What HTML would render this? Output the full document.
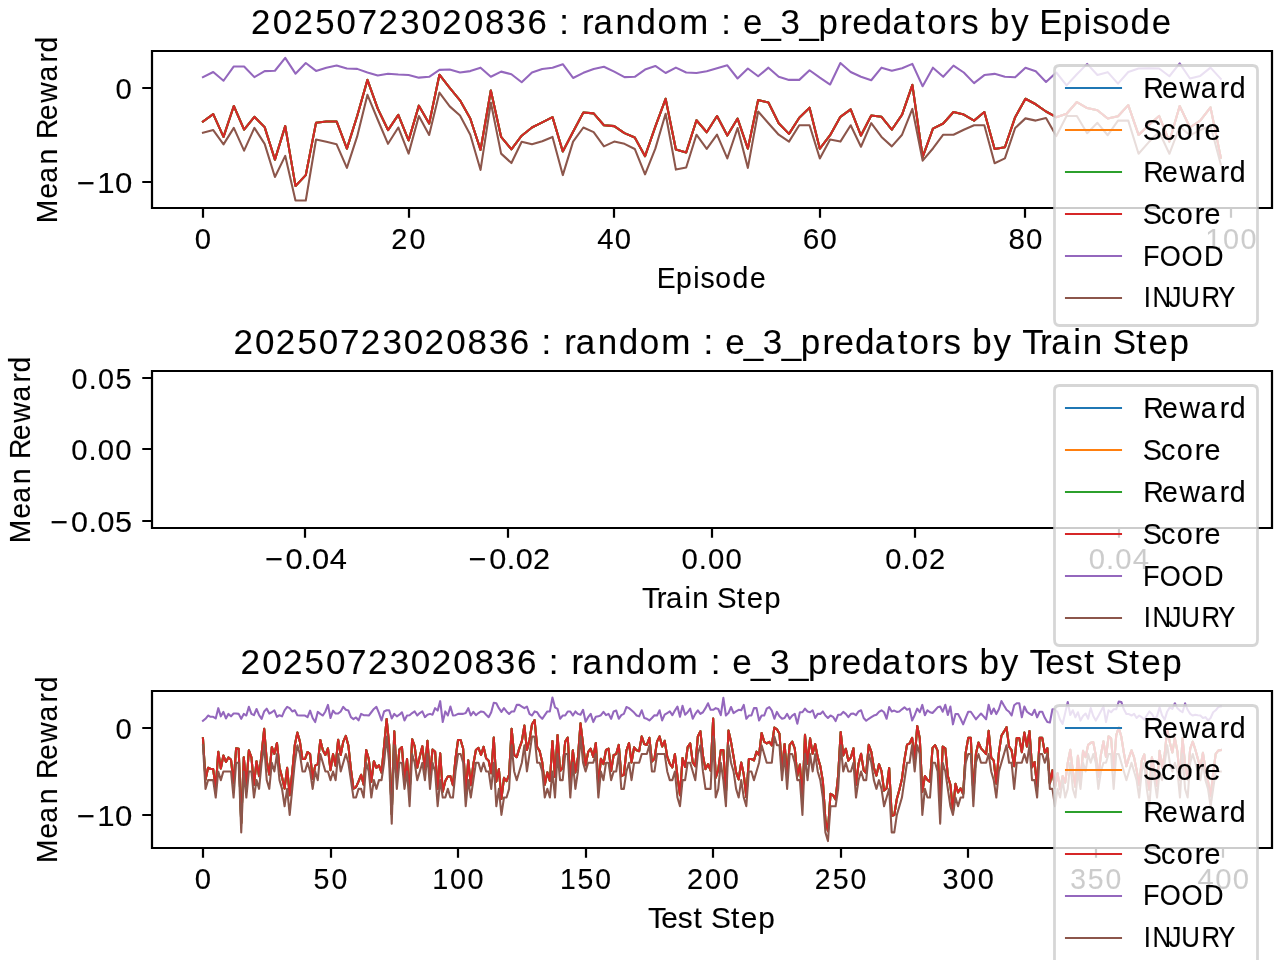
<!DOCTYPE html>
<html><head><meta charset="utf-8"><title>chart</title>
<style>html,body{margin:0;padding:0;background:#fff;overflow:hidden;width:1280px;height:960px}
svg text{font-family:"Liberation Sans", sans-serif;stroke:#000;stroke-width:0.12px}
svg{will-change:transform}</style></head>
<body>
<svg width="1280" height="960" viewBox="0 0 1280 960" style="display:block"><rect width="1280" height="960" fill="#fff"/>
<clipPath id="c0"><rect x="152.07" y="51" width="1119.62" height="156.9"/></clipPath>
<g clip-path="url(#c0)" fill="none" stroke-width="2.08" stroke-linejoin="round" stroke-linecap="square">
<path d="M202.96 121.47 L213.24 114.08 L223.52 136.94 L233.81 106 L244.09 129.55 L254.37 116.83 L264.65 127.14 L274.93 159.63 L285.21 126.11 L295.49 185.93 L305.77 175.1 L316.05 122.67 L326.34 121.47 L336.62 121.47 L346.9 148.63 L357.18 115.97 L367.46 79.88 L377.74 108.58 L388.02 130.06 L398.3 114.94 L408.59 140.38 L418.87 105.66 L429.15 123.53 L439.43 74.72 L449.71 87.95 L459.99 100.33 L470.27 118.55 L480.55 149.83 L490.83 90.53 L501.12 136.94 L511.4 149.32 L521.68 135.74 L531.96 127.49 L542.24 122.33 L552.52 117.17 L562.8 151.55 L573.08 131.78 L583.37 112.53 L593.65 113.39 L603.93 125.25 L614.21 126.11 L624.49 133.16 L634.77 137.46 L645.05 156.19 L655.33 126.63 L665.61 98.78 L675.9 149.49 L686.18 152.41 L696.46 120.27 L706.74 132.3 L717.02 115.97 L727.3 135.57 L737.58 118.55 L747.86 148.63 L758.15 99.99 L768.43 102.56 L778.71 123.19 L788.99 133.85 L799.27 117.69 L809.55 107.72 L819.83 148.63 L830.11 135.22 L840.39 116.83 L850.68 109.44 L860.96 135.57 L871.24 115.46 L881.52 116.83 L891.8 129.72 L902.08 114.6 L912.36 84.86 L922.64 157.22 L932.93 128.69 L943.21 123.53 L953.49 112.02 L963.77 114.6 L974.05 120.61 L984.33 112.02 L994.61 148.97 L1004.89 147.25 L1015.17 117.17 L1025.46 98.78 L1035.74 104.28 L1046.02 111.5 L1056.3 117.17 L1066.58 113.74 L1076.86 102.05 L1087.14 108.06 L1097.42 110.3 L1107.71 118.55 L1117.99 116.31 L1128.27 105.14 L1138.55 134.88 L1148.83 124.91 L1159.11 115.97 L1169.39 141.58 L1179.67 106 L1189.95 127.49 L1200.24 120.61 L1210.52 107.38 L1220.8 157.57" stroke="#1f77b4"/>
<path d="M202.96 121.47 L213.24 114.08 L223.52 136.94 L233.81 106 L244.09 129.55 L254.37 116.83 L264.65 127.14 L274.93 159.63 L285.21 126.11 L295.49 185.93 L305.77 175.1 L316.05 122.67 L326.34 121.47 L336.62 121.47 L346.9 148.63 L357.18 115.97 L367.46 79.88 L377.74 108.58 L388.02 130.06 L398.3 114.94 L408.59 140.38 L418.87 105.66 L429.15 123.53 L439.43 74.72 L449.71 87.95 L459.99 100.33 L470.27 118.55 L480.55 149.83 L490.83 90.53 L501.12 136.94 L511.4 149.32 L521.68 135.74 L531.96 127.49 L542.24 122.33 L552.52 117.17 L562.8 151.55 L573.08 131.78 L583.37 112.53 L593.65 113.39 L603.93 125.25 L614.21 126.11 L624.49 133.16 L634.77 137.46 L645.05 156.19 L655.33 126.63 L665.61 98.78 L675.9 149.49 L686.18 152.41 L696.46 120.27 L706.74 132.3 L717.02 115.97 L727.3 135.57 L737.58 118.55 L747.86 148.63 L758.15 99.99 L768.43 102.56 L778.71 123.19 L788.99 133.85 L799.27 117.69 L809.55 107.72 L819.83 148.63 L830.11 135.22 L840.39 116.83 L850.68 109.44 L860.96 135.57 L871.24 115.46 L881.52 116.83 L891.8 129.72 L902.08 114.6 L912.36 84.86 L922.64 157.22 L932.93 128.69 L943.21 123.53 L953.49 112.02 L963.77 114.6 L974.05 120.61 L984.33 112.02 L994.61 148.97 L1004.89 147.25 L1015.17 117.17 L1025.46 98.78 L1035.74 104.28 L1046.02 111.5 L1056.3 117.17 L1066.58 113.74 L1076.86 102.05 L1087.14 108.06 L1097.42 110.3 L1107.71 118.55 L1117.99 116.31 L1128.27 105.14 L1138.55 134.88 L1148.83 124.91 L1159.11 115.97 L1169.39 141.58 L1179.67 106 L1189.95 127.49 L1200.24 120.61 L1210.52 107.38 L1220.8 157.57" stroke="#ff7f0e"/>
<path d="M202.96 121.47 L213.24 114.08 L223.52 136.94 L233.81 106 L244.09 129.55 L254.37 116.83 L264.65 127.14 L274.93 159.63 L285.21 126.11 L295.49 185.93 L305.77 175.1 L316.05 122.67 L326.34 121.47 L336.62 121.47 L346.9 148.63 L357.18 115.97 L367.46 79.88 L377.74 108.58 L388.02 130.06 L398.3 114.94 L408.59 140.38 L418.87 105.66 L429.15 123.53 L439.43 74.72 L449.71 87.95 L459.99 100.33 L470.27 118.55 L480.55 149.83 L490.83 90.53 L501.12 136.94 L511.4 149.32 L521.68 135.74 L531.96 127.49 L542.24 122.33 L552.52 117.17 L562.8 151.55 L573.08 131.78 L583.37 112.53 L593.65 113.39 L603.93 125.25 L614.21 126.11 L624.49 133.16 L634.77 137.46 L645.05 156.19 L655.33 126.63 L665.61 98.78 L675.9 149.49 L686.18 152.41 L696.46 120.27 L706.74 132.3 L717.02 115.97 L727.3 135.57 L737.58 118.55 L747.86 148.63 L758.15 99.99 L768.43 102.56 L778.71 123.19 L788.99 133.85 L799.27 117.69 L809.55 107.72 L819.83 148.63 L830.11 135.22 L840.39 116.83 L850.68 109.44 L860.96 135.57 L871.24 115.46 L881.52 116.83 L891.8 129.72 L902.08 114.6 L912.36 84.86 L922.64 157.22 L932.93 128.69 L943.21 123.53 L953.49 112.02 L963.77 114.6 L974.05 120.61 L984.33 112.02 L994.61 148.97 L1004.89 147.25 L1015.17 117.17 L1025.46 98.78 L1035.74 104.28 L1046.02 111.5 L1056.3 117.17 L1066.58 113.74 L1076.86 102.05 L1087.14 108.06 L1097.42 110.3 L1107.71 118.55 L1117.99 116.31 L1128.27 105.14 L1138.55 134.88 L1148.83 124.91 L1159.11 115.97 L1169.39 141.58 L1179.67 106 L1189.95 127.49 L1200.24 120.61 L1210.52 107.38 L1220.8 157.57" stroke="#2ca02c"/>
<path d="M202.96 121.47 L213.24 114.08 L223.52 136.94 L233.81 106 L244.09 129.55 L254.37 116.83 L264.65 127.14 L274.93 159.63 L285.21 126.11 L295.49 185.93 L305.77 175.1 L316.05 122.67 L326.34 121.47 L336.62 121.47 L346.9 148.63 L357.18 115.97 L367.46 79.88 L377.74 108.58 L388.02 130.06 L398.3 114.94 L408.59 140.38 L418.87 105.66 L429.15 123.53 L439.43 74.72 L449.71 87.95 L459.99 100.33 L470.27 118.55 L480.55 149.83 L490.83 90.53 L501.12 136.94 L511.4 149.32 L521.68 135.74 L531.96 127.49 L542.24 122.33 L552.52 117.17 L562.8 151.55 L573.08 131.78 L583.37 112.53 L593.65 113.39 L603.93 125.25 L614.21 126.11 L624.49 133.16 L634.77 137.46 L645.05 156.19 L655.33 126.63 L665.61 98.78 L675.9 149.49 L686.18 152.41 L696.46 120.27 L706.74 132.3 L717.02 115.97 L727.3 135.57 L737.58 118.55 L747.86 148.63 L758.15 99.99 L768.43 102.56 L778.71 123.19 L788.99 133.85 L799.27 117.69 L809.55 107.72 L819.83 148.63 L830.11 135.22 L840.39 116.83 L850.68 109.44 L860.96 135.57 L871.24 115.46 L881.52 116.83 L891.8 129.72 L902.08 114.6 L912.36 84.86 L922.64 157.22 L932.93 128.69 L943.21 123.53 L953.49 112.02 L963.77 114.6 L974.05 120.61 L984.33 112.02 L994.61 148.97 L1004.89 147.25 L1015.17 117.17 L1025.46 98.78 L1035.74 104.28 L1046.02 111.5 L1056.3 117.17 L1066.58 113.74 L1076.86 102.05 L1087.14 108.06 L1097.42 110.3 L1107.71 118.55 L1117.99 116.31 L1128.27 105.14 L1138.55 134.88 L1148.83 124.91 L1159.11 115.97 L1169.39 141.58 L1179.67 106 L1189.95 127.49 L1200.24 120.61 L1210.52 107.38 L1220.8 157.57" stroke="#d62728"/>
<path d="M202.96 77.13 L213.24 71.97 L223.52 80.74 L233.81 66.47 L244.09 66.47 L254.37 77.13 L264.65 71.11 L274.93 70.77 L285.21 57.88 L295.49 73.69 L305.77 63.03 L316.05 70.94 L326.34 67.67 L336.62 65.44 L346.9 68.53 L357.18 68.88 L367.46 72.49 L377.74 75.58 L388.02 73.69 L398.3 74.55 L408.59 75.06 L418.87 77.64 L429.15 76.78 L439.43 69.91 L449.71 69.56 L459.99 72.49 L470.27 71.11 L480.55 67.67 L490.83 76.78 L501.12 71.63 L511.4 74.2 L521.68 82.28 L531.96 72.49 L542.24 69.05 L552.52 67.84 L562.8 64.23 L573.08 77.99 L583.37 72.83 L593.65 69.05 L603.93 66.81 L614.21 71.63 L624.49 77.13 L634.77 76.78 L645.05 69.56 L655.33 65.95 L665.61 73 L675.9 67.67 L686.18 72.49 L696.46 73 L706.74 71.28 L717.02 68.19 L727.3 65.27 L737.58 78.5 L747.86 68.53 L758.15 76.27 L768.43 67.67 L778.71 76.78 L788.99 79.88 L799.27 79.88 L809.55 70.25 L819.83 77.64 L830.11 84.52 L840.39 63.03 L850.68 71.97 L860.96 76.78 L871.24 80.22 L881.52 67.67 L891.8 70.77 L902.08 68.19 L912.36 63.89 L922.64 86.24 L932.93 67.67 L943.21 76.78 L953.49 65.61 L963.77 72.49 L974.05 83.14 L984.33 75.06 L994.61 73.86 L1004.89 76.78 L1015.17 77.3 L1025.46 67.84 L1035.74 71.28 L1046.02 81.94 L1056.3 72.49 L1066.58 85.38 L1076.86 74.2 L1087.14 63.89 L1097.42 75.06 L1107.71 72.14 L1117.99 83.66 L1128.27 71.97 L1138.55 68.53 L1148.83 68.19 L1159.11 68.53 L1169.39 76.27 L1179.67 63.38 L1189.95 78.5 L1200.24 75.92 L1210.52 67.67 L1220.8 78.84" stroke="#9467bd"/>
<path d="M202.96 132.64 L213.24 130.06 L223.52 144.33 L233.81 127.83 L244.09 150.69 L254.37 127.83 L264.65 143.82 L274.93 176.99 L285.21 155.85 L295.49 200.54 L305.77 200.54 L316.05 139.52 L326.34 141.75 L336.62 144.33 L346.9 167.88 L357.18 136.42 L367.46 94.83 L377.74 119.75 L388.02 143.82 L398.3 127.49 L408.59 153.61 L418.87 115.97 L429.15 134.88 L439.43 92.6 L449.71 106.35 L459.99 115.46 L470.27 134.71 L480.55 169.94 L490.83 102.56 L501.12 153.61 L511.4 163.07 L521.68 141.75 L531.96 144.33 L542.24 141.24 L552.52 136.94 L562.8 175.1 L573.08 141.58 L583.37 127.49 L593.65 132.13 L603.93 146.39 L614.21 141.58 L624.49 143.82 L634.77 148.97 L645.05 174.41 L655.33 148.63 L665.61 113.74 L675.9 169.6 L686.18 167.53 L696.46 134.71 L706.74 148.97 L717.02 134.71 L727.3 158.43 L737.58 128 L747.86 167.88 L758.15 111.5 L768.43 123.19 L778.71 134.71 L788.99 141.58 L799.27 125.25 L809.55 125.25 L819.83 158.43 L830.11 139.52 L840.39 141.58 L850.68 125.25 L860.96 146.74 L871.24 123.19 L881.52 136.94 L891.8 146.39 L902.08 134.71 L912.36 108.92 L922.64 160.66 L932.93 148.46 L943.21 134.71 L953.49 134.71 L963.77 129.72 L974.05 125.25 L984.33 125.25 L994.61 163.24 L1004.89 158.43 L1015.17 128 L1025.46 118.38 L1035.74 120.61 L1046.02 118.03 L1056.3 136.08 L1066.58 115.97 L1076.86 115.97 L1087.14 133.16 L1097.42 122.85 L1107.71 135.22 L1117.99 120.61 L1128.27 120.61 L1138.55 153.78 L1148.83 142.1 L1159.11 131.78 L1169.39 153.78 L1179.67 126.63 L1189.95 135.22 L1200.24 130.06 L1210.52 125.77 L1220.8 164.44" stroke="#8c564b"/>
</g>
<path d="M203 208 V217.72 M409 208 V217.72 M614 208 V217.72 M820 208 V217.72 M1025 208 V217.72 M1231 208 V217.72 M152 182 H142.28 M152 88 H142.28" stroke="#000" stroke-width="2.22" fill="none"/>
<path d="M152 51 H1272 V208 H152 Z" stroke="#000" stroke-width="2.22" fill="none" stroke-linejoin="miter" stroke-linecap="square"/>
<g font-family="Liberation Sans, sans-serif">
<text transform="translate(194.09 249.34) scale(0.9992 1)" x="0.69" y="0" font-size="29.31" fill="#000000">0</text>
<text transform="translate(390.9 249.34) scale(0.9816 1)" x="0.47 18.83" y="0" font-size="29.31" fill="#000000">20</text>
<text transform="translate(596.52 249.34) scale(0.9992 1)" x="0.69 18.36" y="0" font-size="29.31" fill="#000000">40</text>
<text transform="translate(802.14 249.34) scale(1.0163 1)" x="0.54 17.91" y="0" font-size="29.31" fill="#000000">60</text>
<text transform="translate(1007.77 249.34) scale(1.0045 1)" x="0.64 18.22" y="0" font-size="29.31" fill="#000000">80</text>
<text transform="translate(1204.52 249.34) scale(0.9852 1)" x="0.67 18.73 36.65" y="0" font-size="29.31" fill="#000000">100</text>
<text transform="translate(74 192.93) scale(1.0627 1)" x="2.39 21.88 38.65" y="0" font-size="29.31" fill="#000000">−10</text>
<text transform="translate(114.88 98.91) scale(0.9992 1)" x="0.69" y="0" font-size="29.31" fill="#000000">0</text>
<text transform="translate(657.38 288.46) scale(0.9667 1)" x="-0.78 19.3 37.11 44.69 59.94 77.64 95.83" y="0" font-size="29.31" fill="#000000">Episode</text>
<text transform="translate(56.89 223.39) rotate(-90) scale(0.9655 1)" x="0.21 25.56 42.08 61.13 78.82 87.34 106.88 124.98 146.92 166.54 177.03" y="0" font-size="29.31" fill="#000000">Mean Reward</text>
<text transform="translate(250.63 34.33) scale(0.9885 1)" x="0.5 22.42 43.46 65.25 86.86 108.28 129.38 151.35 172.79 193.82 215.75 237.23 258.76 280.2 301.21 312.27 323.31 335.3 346.74 369.12 390.26 411.52 433.5 464.99 476.05 487.1 498.02 516.85 536 555.21 574.51 596.54 608.59 629.42 649.42 672.46 684.6 706.45 718.83 736.66 748.06 769.53 788.81 797.88 821.53 842.62 851.44 869.34 890.17 911.55" y="0" font-size="35.17" fill="#000000">20250723020836 : random : e_3_predators by Episode</text>
</g>
<path d="M1059.5 325.5 L1252.5 325.5 Q1257.5 325.5 1257.5 319.5 L1257.5 70.5 Q1257.5 65.5 1252.5 65.5 L1059.5 65.5 Q1054.5 65.5 1054.5 70.5 L1054.5 319.5 Q1054.5 325.5 1059.5 325.5 Z" fill="#ffffff" fill-opacity="0.8" stroke="#cccccc" stroke-opacity="0.8" stroke-width="2.78"/>
<g fill="none" stroke-width="2.08" stroke-linecap="square">
<path d="M1066 88 L1093 88 L1121 88" stroke="#1f77b4"/>
<path d="M1066 130 L1093 130 L1121 130" stroke="#ff7f0e"/>
<path d="M1066 172 L1093 172 L1121 172" stroke="#2ca02c"/>
<path d="M1066 214 L1093 214 L1121 214" stroke="#d62728"/>
<path d="M1066 256 L1093 256 L1121 256" stroke="#9467bd"/>
<path d="M1066 298 L1093 298 L1121 298" stroke="#8c564b"/>
</g>
<g font-family="Liberation Sans, sans-serif">
<text transform="translate(1143.32 98) scale(0.9722 1)" x="-0.19 19.24 37.19 58.99 78.5 88.9" y="0" font-size="29.31" fill="#000000">Reward</text>
<text transform="translate(1143.32 139.89) scale(0.9809 1)" x="-0.63 18.08 34.03 52.32 62.43" y="0" font-size="29.31" fill="#000000">Score</text>
<text transform="translate(1143.32 181.78) scale(0.9722 1)" x="-0.19 19.24 37.19 58.99 78.5 88.9" y="0" font-size="29.31" fill="#000000">Reward</text>
<text transform="translate(1143.32 223.67) scale(0.9809 1)" x="-0.63 18.08 34.03 52.32 62.43" y="0" font-size="29.31" fill="#000000">Score</text>
<text transform="translate(1143.32 265.56) scale(0.9227 1)" x="-0.31 17.76 41.43 65.74" y="0" font-size="29.31" fill="#000000">FOOD</text>
<text transform="translate(1143.32 307.44) scale(0.8789 1)" x="0.59 10.54 28.75 43.22 66.32 85.17" y="0" font-size="29.31" fill="#000000">INJURY</text>
</g>
<clipPath id="c1"><rect x="152.07" y="370.95" width="1119.62" height="156.9"/></clipPath>
<g clip-path="url(#c1)" fill="none" stroke-width="2.08" stroke-linejoin="round" stroke-linecap="square">
</g>
<path d="M305 528 V537.72 M508 528 V537.72 M712 528 V537.72 M915 528 V537.72 M1119 528 V537.72 M152 521 H142.28 M152 449 H142.28 M152 378 H142.28" stroke="#000" stroke-width="2.22" fill="none"/>
<path d="M152 371 H1272 V528 H152 Z" stroke="#000" stroke-width="2.22" fill="none" stroke-linejoin="miter" stroke-linecap="square"/>
<g font-family="Liberation Sans, sans-serif">
<text transform="translate(262.12 569.29) scale(1.0533 1)" x="2.48 22.31 38.94 47.44 64.21" y="0" font-size="29.31" fill="#000000">−0.04</text>
<text transform="translate(465.69 569.29) scale(1.0463 1)" x="2.56 22.51 39.23 47.81 64.34" y="0" font-size="29.31" fill="#000000">−0.02</text>
<text transform="translate(680.82 569.29) scale(1.0008 1)" x="0.67 17.97 27.13 44.77" y="0" font-size="29.31" fill="#000000">0.00</text>
<text transform="translate(884.45 569.29) scale(0.9899 1)" x="0.77 18.21 27.52 44.98" y="0" font-size="29.31" fill="#000000">0.02</text>
<text transform="translate(1088.01 569.29) scale(1.0008 1)" x="0.67 17.97 27.13 44.77" y="0" font-size="29.31" fill="#000000">0.04</text>
<text transform="translate(47.38 531.72) scale(1.0408 1)" x="2.62 22.67 39.46 48.11 64.97" y="0" font-size="29.31" fill="#000000">−0.05</text>
<text transform="translate(70.5 460.4) scale(1.0008 1)" x="0.67 17.97 27.13 44.77" y="0" font-size="29.31" fill="#000000">0.00</text>
<text transform="translate(70.63 389.08) scale(0.9834 1)" x="0.83 18.36 27.75 45.6" y="0" font-size="29.31" fill="#000000">0.05</text>
<text transform="translate(642.57 608.41) scale(1.0021 1)" x="-0.48 14.15 23.48 41.76 49.54 66.73 74.37 94.07 104.07 121.49" y="0" font-size="29.31" fill="#000000">Train Step</text>
<text transform="translate(30.26 543.34) rotate(-90) scale(0.9655 1)" x="0.21 25.56 42.08 61.13 78.82 87.34 106.88 124.98 146.92 166.54 177.03" y="0" font-size="29.31" fill="#000000">Mean Reward</text>
<text transform="translate(232.94 354.28) scale(0.9942 1)" x="0.44 22.24 43.15 64.82 86.31 107.6 128.58 150.43 171.74 192.66 214.46 235.82 257.22 278.53 299.45 310.45 321.43 333.35 344.69 366.95 387.97 409.1 430.93 462.3 473.3 484.28 495.11 513.83 532.87 551.98 571.16 593.08 605.05 625.76 645.64 668.58 680.63 702.36 714.66 732.41 743.71 765.07 784.26 793.99 811.77 823.12 845.23 854.71 875.51 884.83 908.64 920.81 941.93" y="0" font-size="35.17" fill="#000000">20250723020836 : random : e_3_predators by Train Step</text>
</g>
<path d="M1059.5 645.5 L1252.5 645.5 Q1257.5 645.5 1257.5 639.5 L1257.5 390.5 Q1257.5 385.5 1252.5 385.5 L1059.5 385.5 Q1054.5 385.5 1054.5 390.5 L1054.5 639.5 Q1054.5 645.5 1059.5 645.5 Z" fill="#ffffff" fill-opacity="0.8" stroke="#cccccc" stroke-opacity="0.8" stroke-width="2.78"/>
<g fill="none" stroke-width="2.08" stroke-linecap="square">
<path d="M1066 408 L1093 408 L1121 408" stroke="#1f77b4"/>
<path d="M1066 450 L1093 450 L1121 450" stroke="#ff7f0e"/>
<path d="M1066 492 L1093 492 L1121 492" stroke="#2ca02c"/>
<path d="M1066 534 L1093 534 L1121 534" stroke="#d62728"/>
<path d="M1066 576 L1093 576 L1121 576" stroke="#9467bd"/>
<path d="M1066 618 L1093 618 L1121 618" stroke="#8c564b"/>
</g>
<g font-family="Liberation Sans, sans-serif">
<text transform="translate(1143.32 417.95) scale(0.9722 1)" x="-0.19 19.24 37.19 58.99 78.5 88.9" y="0" font-size="29.31" fill="#000000">Reward</text>
<text transform="translate(1143.32 459.84) scale(0.9809 1)" x="-0.63 18.08 34.03 52.32 62.43" y="0" font-size="29.31" fill="#000000">Score</text>
<text transform="translate(1143.32 501.73) scale(0.9722 1)" x="-0.19 19.24 37.19 58.99 78.5 88.9" y="0" font-size="29.31" fill="#000000">Reward</text>
<text transform="translate(1143.32 543.62) scale(0.9809 1)" x="-0.63 18.08 34.03 52.32 62.43" y="0" font-size="29.31" fill="#000000">Score</text>
<text transform="translate(1143.32 585.51) scale(0.9227 1)" x="-0.31 17.76 41.43 65.74" y="0" font-size="29.31" fill="#000000">FOOD</text>
<text transform="translate(1143.32 627.39) scale(0.8789 1)" x="0.59 10.54 28.75 43.22 66.32 85.17" y="0" font-size="29.31" fill="#000000">INJURY</text>
</g>
<clipPath id="c2"><rect x="152.07" y="690.9" width="1119.62" height="156.9"/></clipPath>
<g clip-path="url(#c2)" fill="none" stroke-width="2.08" stroke-linejoin="round" stroke-linecap="square">
<path d="M202.96 738.32 L205.51 779.71 L208.06 767.74 L210.61 769.05 L213.17 769.05 L215.72 788.09 L218.27 751.68 L220.82 768.56 L223.37 755.44 L225.92 761.98 L228.47 757.4 L231.02 759.86 L233.57 783.19 L236.12 748.37 L238.68 748.7 L241.23 823.23 L243.78 757.4 L246.33 785.15 L248.88 750.37 L251.43 757.4 L253.98 784.82 L256.53 761.2 L259.08 776.12 L261.63 753.6 L264.19 728.84 L266.74 760.88 L269.29 774.48 L271.84 747.06 L274.39 753.81 L276.94 742.94 L279.49 767.41 L282.04 777.26 L284.59 788.62 L287.14 767.78 L289.69 795.2 L292.25 772.36 L294.8 745.1 L297.35 732.6 L299.9 741.63 L302.45 759.04 L305 759.04 L307.55 751.97 L310.1 754.13 L312.65 778.9 L315.2 765.58 L317.76 764.15 L320.31 740 L322.86 750.33 L325.41 754.95 L327.96 748.41 L330.51 770.19 L333.06 754.13 L335.61 765.78 L338.16 739.67 L340.71 754.95 L343.27 741.67 L345.82 735.91 L348.37 745.43 L350.92 769.38 L353.47 788.75 L356.02 787.11 L358.57 781.35 L361.12 774.81 L363.67 784.82 L366.22 750.01 L368.77 759.04 L371.33 781.88 L373.88 761.2 L376.43 767.78 L378.98 765.29 L381.53 772.65 L384.08 746.25 L386.63 718.99 L389.18 745.1 L391.73 814.2 L394.28 731.29 L396.84 777.26 L399.39 749.52 L401.94 747.06 L404.49 781.35 L407.04 759.04 L409.59 793.53 L412.14 739.18 L414.69 746.25 L417.24 767.74 L419.79 756.59 L422.35 746.25 L424.9 769.38 L427.45 740.81 L430 774.81 L432.55 749.52 L435.1 751.68 L437.65 788.95 L440.2 753.36 L442.75 791.69 L445.3 781.06 L447.85 776.45 L450.41 776.16 L452.96 785.15 L455.51 758.71 L458.06 740 L460.61 740 L463.16 748.7 L465.71 791.4 L468.26 760.39 L470.81 785.15 L473.36 764.15 L475.92 750.01 L478.47 747.88 L481.02 754.95 L483.57 746.74 L486.12 758.22 L488.67 760.67 L491.22 773.18 L493.77 737.58 L496.32 781.59 L498.87 769.09 L501.43 798.96 L503.98 777.79 L506.53 781.06 L509.08 774.81 L511.63 728.84 L514.18 754.95 L516.73 757.12 L519.28 748.41 L521.83 741.34 L524.38 725.57 L526.93 750.05 L529.49 740 L532.04 724.22 L534.59 720.14 L537.14 747.06 L539.69 751.15 L542.24 762.31 L544.79 784.82 L547.34 772.36 L549.89 781.06 L552.44 741.06 L555 776.98 L557.55 735.09 L560.1 771.01 L562.65 767.74 L565.2 741.63 L567.75 737.54 L570.3 781.06 L572.85 750.33 L575.4 772.36 L577.95 757.4 L580.51 723.4 L583.06 744.61 L585.61 765.25 L588.16 751.97 L590.71 748.7 L593.26 756.87 L595.81 742.94 L598.36 785.97 L600.91 758.71 L603.46 764.15 L606.01 750.01 L608.57 748.7 L611.12 771.01 L613.67 754.95 L616.22 754.13 L618.77 744.9 L621.32 776.12 L623.87 774.81 L626.42 750.54 L628.97 742.98 L631.52 762.51 L634.08 747.39 L636.63 750.33 L639.18 751.15 L641.73 736.4 L644.28 744.08 L646.83 744.9 L649.38 737.83 L651.93 761.49 L654.48 758.71 L657.03 741.63 L659.59 736.4 L662.14 746.53 L664.69 740.81 L667.24 756.59 L669.79 763.66 L672.34 767.41 L674.89 754.13 L677.44 776.16 L679.99 795.16 L682.54 757.93 L685.09 766.92 L687.65 747.06 L690.2 743.47 L692.75 762.31 L695.3 766.11 L697.85 736.4 L700.4 731.29 L702.95 755.77 L705.5 769.09 L708.05 764.19 L710.6 770.72 L713.16 718.5 L715.71 777.79 L718.26 769.91 L720.81 750.01 L723.36 750.09 L725.91 793.85 L728.46 730.47 L731.01 741.83 L733.56 756.59 L736.11 772.36 L738.67 779.43 L741.22 762.51 L743.77 774.53 L746.32 797.12 L748.87 759.04 L751.42 759.04 L753.97 760.39 L756.52 751.68 L759.07 755.24 L761.62 732.93 L764.17 741.63 L766.73 743.47 L769.28 741.83 L771.83 745.43 L774.38 727.49 L776.93 729.33 L779.48 733.74 L782.03 771.01 L784.58 744.08 L787.13 774.81 L789.68 744.9 L792.24 741.63 L794.79 748.7 L797.34 775.91 L799.89 764.47 L802.44 799.29 L804.99 734.76 L807.54 763.66 L810.09 738.36 L812.64 753.81 L815.19 744.08 L817.75 757.4 L820.3 766.11 L822.85 781.06 L825.4 819.97 L827.95 831.12 L830.5 793.85 L833.05 795.16 L835.6 799.41 L838.15 775.63 L840.7 732.11 L843.25 755.44 L845.81 748.7 L848.36 760.67 L850.91 757.4 L853.46 748.37 L856.01 784.82 L858.56 763.66 L861.11 753.81 L863.66 770.19 L866.21 772.97 L868.76 744.9 L871.32 751.97 L873.87 767.74 L876.42 775.63 L878.97 764.15 L881.52 771.22 L884.07 790.58 L886.62 788.42 L889.17 767.95 L891.72 815.88 L894.27 815.06 L896.83 798.96 L899.38 789.77 L901.93 778.94 L904.48 759.57 L907.03 744.61 L909.58 743.47 L912.13 737.83 L914.68 758.71 L917.23 726.06 L919.78 738.36 L922.33 791.93 L924.89 776.12 L927.44 779.92 L929.99 781.88 L932.54 747.88 L935.09 745.1 L937.64 750.87 L940.19 802.27 L942.74 746.57 L945.29 748.25 L947.84 775.96 L950.4 784.86 L952.95 811.38 L955.5 783.68 L958.05 792.38 L960.6 788.42 L963.15 793.98 L965.7 752.62 L968.25 737.87 L970.8 737.87 L973.35 793.85 L975.91 754.09 L978.46 742.45 L981.01 748.37 L983.56 751.15 L986.11 754.09 L988.66 730.84 L991.21 757.57 L993.76 760.71 L996.31 783.68 L998.86 752.83 L1001.41 735.79 L1003.97 731.66 L1006.52 727.2 L1009.07 746.57 L1011.62 750.33 L1014.17 766.15 L1016.72 738.07 L1019.27 738.07 L1021.82 752.13 L1024.37 732.64 L1026.92 746.57 L1029.48 730.96 L1032.03 767.25 L1034.58 762.02 L1037.13 786.95 L1039.68 737.87 L1042.23 737.87 L1044.78 752.62 L1047.33 748.17 L1049.88 783.47 L1052.43 770.23 L1054.99 787.64 L1057.54 773.18 L1060.09 789.24 L1062.64 776.08 L1065.19 782.7 L1067.74 762.88 L1070.29 749.84 L1072.84 771.22 L1075.39 786.95 L1077.94 755.77 L1080.49 781.51 L1083.05 750.82 L1085.6 757.08 L1088.15 744.9 L1090.7 742.82 L1093.25 742.12 L1095.8 755.4 L1098.35 776.94 L1100.9 754.79 L1103.45 741.34 L1106 756.87 L1108.56 736.4 L1111.11 738.36 L1113.66 770.23 L1116.21 735.42 L1118.76 727.57 L1121.31 736.77 L1123.86 752.83 L1126.41 766.27 L1128.96 757.57 L1131.51 750.33 L1134.07 757.4 L1136.62 770.19 L1139.17 785.15 L1141.72 760.67 L1144.27 754.42 L1146.82 776.45 L1149.37 789.77 L1151.92 757.4 L1154.47 771.01 L1157.02 785.97 L1159.57 750.87 L1162.13 767.74 L1164.68 754.42 L1167.23 728.84 L1169.78 742.16 L1172.33 752.5 L1174.88 738.07 L1177.43 751.68 L1179.98 780.25 L1182.53 738.36 L1185.08 764.19 L1187.64 779.43 L1190.19 748.7 L1192.74 741.63 L1195.29 749.52 L1197.84 758.71 L1200.39 767.74 L1202.94 752.79 L1205.49 769.38 L1208.04 781.35 L1210.59 796.31 L1213.15 773.18 L1215.7 753.81 L1218.25 750.54 L1220.8 750.05" stroke="#1f77b4"/>
<path d="M202.96 738.32 L205.51 779.71 L208.06 767.74 L210.61 769.05 L213.17 769.05 L215.72 788.09 L218.27 751.68 L220.82 768.56 L223.37 755.44 L225.92 761.98 L228.47 757.4 L231.02 759.86 L233.57 783.19 L236.12 748.37 L238.68 748.7 L241.23 823.23 L243.78 757.4 L246.33 785.15 L248.88 750.37 L251.43 757.4 L253.98 784.82 L256.53 761.2 L259.08 776.12 L261.63 753.6 L264.19 728.84 L266.74 760.88 L269.29 774.48 L271.84 747.06 L274.39 753.81 L276.94 742.94 L279.49 767.41 L282.04 777.26 L284.59 788.62 L287.14 767.78 L289.69 795.2 L292.25 772.36 L294.8 745.1 L297.35 732.6 L299.9 741.63 L302.45 759.04 L305 759.04 L307.55 751.97 L310.1 754.13 L312.65 778.9 L315.2 765.58 L317.76 764.15 L320.31 740 L322.86 750.33 L325.41 754.95 L327.96 748.41 L330.51 770.19 L333.06 754.13 L335.61 765.78 L338.16 739.67 L340.71 754.95 L343.27 741.67 L345.82 735.91 L348.37 745.43 L350.92 769.38 L353.47 788.75 L356.02 787.11 L358.57 781.35 L361.12 774.81 L363.67 784.82 L366.22 750.01 L368.77 759.04 L371.33 781.88 L373.88 761.2 L376.43 767.78 L378.98 765.29 L381.53 772.65 L384.08 746.25 L386.63 718.99 L389.18 745.1 L391.73 814.2 L394.28 731.29 L396.84 777.26 L399.39 749.52 L401.94 747.06 L404.49 781.35 L407.04 759.04 L409.59 793.53 L412.14 739.18 L414.69 746.25 L417.24 767.74 L419.79 756.59 L422.35 746.25 L424.9 769.38 L427.45 740.81 L430 774.81 L432.55 749.52 L435.1 751.68 L437.65 788.95 L440.2 753.36 L442.75 791.69 L445.3 781.06 L447.85 776.45 L450.41 776.16 L452.96 785.15 L455.51 758.71 L458.06 740 L460.61 740 L463.16 748.7 L465.71 791.4 L468.26 760.39 L470.81 785.15 L473.36 764.15 L475.92 750.01 L478.47 747.88 L481.02 754.95 L483.57 746.74 L486.12 758.22 L488.67 760.67 L491.22 773.18 L493.77 737.58 L496.32 781.59 L498.87 769.09 L501.43 798.96 L503.98 777.79 L506.53 781.06 L509.08 774.81 L511.63 728.84 L514.18 754.95 L516.73 757.12 L519.28 748.41 L521.83 741.34 L524.38 725.57 L526.93 750.05 L529.49 740 L532.04 724.22 L534.59 720.14 L537.14 747.06 L539.69 751.15 L542.24 762.31 L544.79 784.82 L547.34 772.36 L549.89 781.06 L552.44 741.06 L555 776.98 L557.55 735.09 L560.1 771.01 L562.65 767.74 L565.2 741.63 L567.75 737.54 L570.3 781.06 L572.85 750.33 L575.4 772.36 L577.95 757.4 L580.51 723.4 L583.06 744.61 L585.61 765.25 L588.16 751.97 L590.71 748.7 L593.26 756.87 L595.81 742.94 L598.36 785.97 L600.91 758.71 L603.46 764.15 L606.01 750.01 L608.57 748.7 L611.12 771.01 L613.67 754.95 L616.22 754.13 L618.77 744.9 L621.32 776.12 L623.87 774.81 L626.42 750.54 L628.97 742.98 L631.52 762.51 L634.08 747.39 L636.63 750.33 L639.18 751.15 L641.73 736.4 L644.28 744.08 L646.83 744.9 L649.38 737.83 L651.93 761.49 L654.48 758.71 L657.03 741.63 L659.59 736.4 L662.14 746.53 L664.69 740.81 L667.24 756.59 L669.79 763.66 L672.34 767.41 L674.89 754.13 L677.44 776.16 L679.99 795.16 L682.54 757.93 L685.09 766.92 L687.65 747.06 L690.2 743.47 L692.75 762.31 L695.3 766.11 L697.85 736.4 L700.4 731.29 L702.95 755.77 L705.5 769.09 L708.05 764.19 L710.6 770.72 L713.16 718.5 L715.71 777.79 L718.26 769.91 L720.81 750.01 L723.36 750.09 L725.91 793.85 L728.46 730.47 L731.01 741.83 L733.56 756.59 L736.11 772.36 L738.67 779.43 L741.22 762.51 L743.77 774.53 L746.32 797.12 L748.87 759.04 L751.42 759.04 L753.97 760.39 L756.52 751.68 L759.07 755.24 L761.62 732.93 L764.17 741.63 L766.73 743.47 L769.28 741.83 L771.83 745.43 L774.38 727.49 L776.93 729.33 L779.48 733.74 L782.03 771.01 L784.58 744.08 L787.13 774.81 L789.68 744.9 L792.24 741.63 L794.79 748.7 L797.34 775.91 L799.89 764.47 L802.44 799.29 L804.99 734.76 L807.54 763.66 L810.09 738.36 L812.64 753.81 L815.19 744.08 L817.75 757.4 L820.3 766.11 L822.85 781.06 L825.4 819.97 L827.95 831.12 L830.5 793.85 L833.05 795.16 L835.6 799.41 L838.15 775.63 L840.7 732.11 L843.25 755.44 L845.81 748.7 L848.36 760.67 L850.91 757.4 L853.46 748.37 L856.01 784.82 L858.56 763.66 L861.11 753.81 L863.66 770.19 L866.21 772.97 L868.76 744.9 L871.32 751.97 L873.87 767.74 L876.42 775.63 L878.97 764.15 L881.52 771.22 L884.07 790.58 L886.62 788.42 L889.17 767.95 L891.72 815.88 L894.27 815.06 L896.83 798.96 L899.38 789.77 L901.93 778.94 L904.48 759.57 L907.03 744.61 L909.58 743.47 L912.13 737.83 L914.68 758.71 L917.23 726.06 L919.78 738.36 L922.33 791.93 L924.89 776.12 L927.44 779.92 L929.99 781.88 L932.54 747.88 L935.09 745.1 L937.64 750.87 L940.19 802.27 L942.74 746.57 L945.29 748.25 L947.84 775.96 L950.4 784.86 L952.95 811.38 L955.5 783.68 L958.05 792.38 L960.6 788.42 L963.15 793.98 L965.7 752.62 L968.25 737.87 L970.8 737.87 L973.35 793.85 L975.91 754.09 L978.46 742.45 L981.01 748.37 L983.56 751.15 L986.11 754.09 L988.66 730.84 L991.21 757.57 L993.76 760.71 L996.31 783.68 L998.86 752.83 L1001.41 735.79 L1003.97 731.66 L1006.52 727.2 L1009.07 746.57 L1011.62 750.33 L1014.17 766.15 L1016.72 738.07 L1019.27 738.07 L1021.82 752.13 L1024.37 732.64 L1026.92 746.57 L1029.48 730.96 L1032.03 767.25 L1034.58 762.02 L1037.13 786.95 L1039.68 737.87 L1042.23 737.87 L1044.78 752.62 L1047.33 748.17 L1049.88 783.47 L1052.43 770.23 L1054.99 787.64 L1057.54 773.18 L1060.09 789.24 L1062.64 776.08 L1065.19 782.7 L1067.74 762.88 L1070.29 749.84 L1072.84 771.22 L1075.39 786.95 L1077.94 755.77 L1080.49 781.51 L1083.05 750.82 L1085.6 757.08 L1088.15 744.9 L1090.7 742.82 L1093.25 742.12 L1095.8 755.4 L1098.35 776.94 L1100.9 754.79 L1103.45 741.34 L1106 756.87 L1108.56 736.4 L1111.11 738.36 L1113.66 770.23 L1116.21 735.42 L1118.76 727.57 L1121.31 736.77 L1123.86 752.83 L1126.41 766.27 L1128.96 757.57 L1131.51 750.33 L1134.07 757.4 L1136.62 770.19 L1139.17 785.15 L1141.72 760.67 L1144.27 754.42 L1146.82 776.45 L1149.37 789.77 L1151.92 757.4 L1154.47 771.01 L1157.02 785.97 L1159.57 750.87 L1162.13 767.74 L1164.68 754.42 L1167.23 728.84 L1169.78 742.16 L1172.33 752.5 L1174.88 738.07 L1177.43 751.68 L1179.98 780.25 L1182.53 738.36 L1185.08 764.19 L1187.64 779.43 L1190.19 748.7 L1192.74 741.63 L1195.29 749.52 L1197.84 758.71 L1200.39 767.74 L1202.94 752.79 L1205.49 769.38 L1208.04 781.35 L1210.59 796.31 L1213.15 773.18 L1215.7 753.81 L1218.25 750.54 L1220.8 750.05" stroke="#ff7f0e"/>
<path d="M202.96 738.32 L205.51 779.71 L208.06 767.74 L210.61 769.05 L213.17 769.05 L215.72 788.09 L218.27 751.68 L220.82 768.56 L223.37 755.44 L225.92 761.98 L228.47 757.4 L231.02 759.86 L233.57 783.19 L236.12 748.37 L238.68 748.7 L241.23 823.23 L243.78 757.4 L246.33 785.15 L248.88 750.37 L251.43 757.4 L253.98 784.82 L256.53 761.2 L259.08 776.12 L261.63 753.6 L264.19 728.84 L266.74 760.88 L269.29 774.48 L271.84 747.06 L274.39 753.81 L276.94 742.94 L279.49 767.41 L282.04 777.26 L284.59 788.62 L287.14 767.78 L289.69 795.2 L292.25 772.36 L294.8 745.1 L297.35 732.6 L299.9 741.63 L302.45 759.04 L305 759.04 L307.55 751.97 L310.1 754.13 L312.65 778.9 L315.2 765.58 L317.76 764.15 L320.31 740 L322.86 750.33 L325.41 754.95 L327.96 748.41 L330.51 770.19 L333.06 754.13 L335.61 765.78 L338.16 739.67 L340.71 754.95 L343.27 741.67 L345.82 735.91 L348.37 745.43 L350.92 769.38 L353.47 788.75 L356.02 787.11 L358.57 781.35 L361.12 774.81 L363.67 784.82 L366.22 750.01 L368.77 759.04 L371.33 781.88 L373.88 761.2 L376.43 767.78 L378.98 765.29 L381.53 772.65 L384.08 746.25 L386.63 718.99 L389.18 745.1 L391.73 814.2 L394.28 731.29 L396.84 777.26 L399.39 749.52 L401.94 747.06 L404.49 781.35 L407.04 759.04 L409.59 793.53 L412.14 739.18 L414.69 746.25 L417.24 767.74 L419.79 756.59 L422.35 746.25 L424.9 769.38 L427.45 740.81 L430 774.81 L432.55 749.52 L435.1 751.68 L437.65 788.95 L440.2 753.36 L442.75 791.69 L445.3 781.06 L447.85 776.45 L450.41 776.16 L452.96 785.15 L455.51 758.71 L458.06 740 L460.61 740 L463.16 748.7 L465.71 791.4 L468.26 760.39 L470.81 785.15 L473.36 764.15 L475.92 750.01 L478.47 747.88 L481.02 754.95 L483.57 746.74 L486.12 758.22 L488.67 760.67 L491.22 773.18 L493.77 737.58 L496.32 781.59 L498.87 769.09 L501.43 798.96 L503.98 777.79 L506.53 781.06 L509.08 774.81 L511.63 728.84 L514.18 754.95 L516.73 757.12 L519.28 748.41 L521.83 741.34 L524.38 725.57 L526.93 750.05 L529.49 740 L532.04 724.22 L534.59 720.14 L537.14 747.06 L539.69 751.15 L542.24 762.31 L544.79 784.82 L547.34 772.36 L549.89 781.06 L552.44 741.06 L555 776.98 L557.55 735.09 L560.1 771.01 L562.65 767.74 L565.2 741.63 L567.75 737.54 L570.3 781.06 L572.85 750.33 L575.4 772.36 L577.95 757.4 L580.51 723.4 L583.06 744.61 L585.61 765.25 L588.16 751.97 L590.71 748.7 L593.26 756.87 L595.81 742.94 L598.36 785.97 L600.91 758.71 L603.46 764.15 L606.01 750.01 L608.57 748.7 L611.12 771.01 L613.67 754.95 L616.22 754.13 L618.77 744.9 L621.32 776.12 L623.87 774.81 L626.42 750.54 L628.97 742.98 L631.52 762.51 L634.08 747.39 L636.63 750.33 L639.18 751.15 L641.73 736.4 L644.28 744.08 L646.83 744.9 L649.38 737.83 L651.93 761.49 L654.48 758.71 L657.03 741.63 L659.59 736.4 L662.14 746.53 L664.69 740.81 L667.24 756.59 L669.79 763.66 L672.34 767.41 L674.89 754.13 L677.44 776.16 L679.99 795.16 L682.54 757.93 L685.09 766.92 L687.65 747.06 L690.2 743.47 L692.75 762.31 L695.3 766.11 L697.85 736.4 L700.4 731.29 L702.95 755.77 L705.5 769.09 L708.05 764.19 L710.6 770.72 L713.16 718.5 L715.71 777.79 L718.26 769.91 L720.81 750.01 L723.36 750.09 L725.91 793.85 L728.46 730.47 L731.01 741.83 L733.56 756.59 L736.11 772.36 L738.67 779.43 L741.22 762.51 L743.77 774.53 L746.32 797.12 L748.87 759.04 L751.42 759.04 L753.97 760.39 L756.52 751.68 L759.07 755.24 L761.62 732.93 L764.17 741.63 L766.73 743.47 L769.28 741.83 L771.83 745.43 L774.38 727.49 L776.93 729.33 L779.48 733.74 L782.03 771.01 L784.58 744.08 L787.13 774.81 L789.68 744.9 L792.24 741.63 L794.79 748.7 L797.34 775.91 L799.89 764.47 L802.44 799.29 L804.99 734.76 L807.54 763.66 L810.09 738.36 L812.64 753.81 L815.19 744.08 L817.75 757.4 L820.3 766.11 L822.85 781.06 L825.4 819.97 L827.95 831.12 L830.5 793.85 L833.05 795.16 L835.6 799.41 L838.15 775.63 L840.7 732.11 L843.25 755.44 L845.81 748.7 L848.36 760.67 L850.91 757.4 L853.46 748.37 L856.01 784.82 L858.56 763.66 L861.11 753.81 L863.66 770.19 L866.21 772.97 L868.76 744.9 L871.32 751.97 L873.87 767.74 L876.42 775.63 L878.97 764.15 L881.52 771.22 L884.07 790.58 L886.62 788.42 L889.17 767.95 L891.72 815.88 L894.27 815.06 L896.83 798.96 L899.38 789.77 L901.93 778.94 L904.48 759.57 L907.03 744.61 L909.58 743.47 L912.13 737.83 L914.68 758.71 L917.23 726.06 L919.78 738.36 L922.33 791.93 L924.89 776.12 L927.44 779.92 L929.99 781.88 L932.54 747.88 L935.09 745.1 L937.64 750.87 L940.19 802.27 L942.74 746.57 L945.29 748.25 L947.84 775.96 L950.4 784.86 L952.95 811.38 L955.5 783.68 L958.05 792.38 L960.6 788.42 L963.15 793.98 L965.7 752.62 L968.25 737.87 L970.8 737.87 L973.35 793.85 L975.91 754.09 L978.46 742.45 L981.01 748.37 L983.56 751.15 L986.11 754.09 L988.66 730.84 L991.21 757.57 L993.76 760.71 L996.31 783.68 L998.86 752.83 L1001.41 735.79 L1003.97 731.66 L1006.52 727.2 L1009.07 746.57 L1011.62 750.33 L1014.17 766.15 L1016.72 738.07 L1019.27 738.07 L1021.82 752.13 L1024.37 732.64 L1026.92 746.57 L1029.48 730.96 L1032.03 767.25 L1034.58 762.02 L1037.13 786.95 L1039.68 737.87 L1042.23 737.87 L1044.78 752.62 L1047.33 748.17 L1049.88 783.47 L1052.43 770.23 L1054.99 787.64 L1057.54 773.18 L1060.09 789.24 L1062.64 776.08 L1065.19 782.7 L1067.74 762.88 L1070.29 749.84 L1072.84 771.22 L1075.39 786.95 L1077.94 755.77 L1080.49 781.51 L1083.05 750.82 L1085.6 757.08 L1088.15 744.9 L1090.7 742.82 L1093.25 742.12 L1095.8 755.4 L1098.35 776.94 L1100.9 754.79 L1103.45 741.34 L1106 756.87 L1108.56 736.4 L1111.11 738.36 L1113.66 770.23 L1116.21 735.42 L1118.76 727.57 L1121.31 736.77 L1123.86 752.83 L1126.41 766.27 L1128.96 757.57 L1131.51 750.33 L1134.07 757.4 L1136.62 770.19 L1139.17 785.15 L1141.72 760.67 L1144.27 754.42 L1146.82 776.45 L1149.37 789.77 L1151.92 757.4 L1154.47 771.01 L1157.02 785.97 L1159.57 750.87 L1162.13 767.74 L1164.68 754.42 L1167.23 728.84 L1169.78 742.16 L1172.33 752.5 L1174.88 738.07 L1177.43 751.68 L1179.98 780.25 L1182.53 738.36 L1185.08 764.19 L1187.64 779.43 L1190.19 748.7 L1192.74 741.63 L1195.29 749.52 L1197.84 758.71 L1200.39 767.74 L1202.94 752.79 L1205.49 769.38 L1208.04 781.35 L1210.59 796.31 L1213.15 773.18 L1215.7 753.81 L1218.25 750.54 L1220.8 750.05" stroke="#2ca02c"/>
<path d="M202.96 738.32 L205.51 779.71 L208.06 767.74 L210.61 769.05 L213.17 769.05 L215.72 788.09 L218.27 751.68 L220.82 768.56 L223.37 755.44 L225.92 761.98 L228.47 757.4 L231.02 759.86 L233.57 783.19 L236.12 748.37 L238.68 748.7 L241.23 823.23 L243.78 757.4 L246.33 785.15 L248.88 750.37 L251.43 757.4 L253.98 784.82 L256.53 761.2 L259.08 776.12 L261.63 753.6 L264.19 728.84 L266.74 760.88 L269.29 774.48 L271.84 747.06 L274.39 753.81 L276.94 742.94 L279.49 767.41 L282.04 777.26 L284.59 788.62 L287.14 767.78 L289.69 795.2 L292.25 772.36 L294.8 745.1 L297.35 732.6 L299.9 741.63 L302.45 759.04 L305 759.04 L307.55 751.97 L310.1 754.13 L312.65 778.9 L315.2 765.58 L317.76 764.15 L320.31 740 L322.86 750.33 L325.41 754.95 L327.96 748.41 L330.51 770.19 L333.06 754.13 L335.61 765.78 L338.16 739.67 L340.71 754.95 L343.27 741.67 L345.82 735.91 L348.37 745.43 L350.92 769.38 L353.47 788.75 L356.02 787.11 L358.57 781.35 L361.12 774.81 L363.67 784.82 L366.22 750.01 L368.77 759.04 L371.33 781.88 L373.88 761.2 L376.43 767.78 L378.98 765.29 L381.53 772.65 L384.08 746.25 L386.63 718.99 L389.18 745.1 L391.73 814.2 L394.28 731.29 L396.84 777.26 L399.39 749.52 L401.94 747.06 L404.49 781.35 L407.04 759.04 L409.59 793.53 L412.14 739.18 L414.69 746.25 L417.24 767.74 L419.79 756.59 L422.35 746.25 L424.9 769.38 L427.45 740.81 L430 774.81 L432.55 749.52 L435.1 751.68 L437.65 788.95 L440.2 753.36 L442.75 791.69 L445.3 781.06 L447.85 776.45 L450.41 776.16 L452.96 785.15 L455.51 758.71 L458.06 740 L460.61 740 L463.16 748.7 L465.71 791.4 L468.26 760.39 L470.81 785.15 L473.36 764.15 L475.92 750.01 L478.47 747.88 L481.02 754.95 L483.57 746.74 L486.12 758.22 L488.67 760.67 L491.22 773.18 L493.77 737.58 L496.32 781.59 L498.87 769.09 L501.43 798.96 L503.98 777.79 L506.53 781.06 L509.08 774.81 L511.63 728.84 L514.18 754.95 L516.73 757.12 L519.28 748.41 L521.83 741.34 L524.38 725.57 L526.93 750.05 L529.49 740 L532.04 724.22 L534.59 720.14 L537.14 747.06 L539.69 751.15 L542.24 762.31 L544.79 784.82 L547.34 772.36 L549.89 781.06 L552.44 741.06 L555 776.98 L557.55 735.09 L560.1 771.01 L562.65 767.74 L565.2 741.63 L567.75 737.54 L570.3 781.06 L572.85 750.33 L575.4 772.36 L577.95 757.4 L580.51 723.4 L583.06 744.61 L585.61 765.25 L588.16 751.97 L590.71 748.7 L593.26 756.87 L595.81 742.94 L598.36 785.97 L600.91 758.71 L603.46 764.15 L606.01 750.01 L608.57 748.7 L611.12 771.01 L613.67 754.95 L616.22 754.13 L618.77 744.9 L621.32 776.12 L623.87 774.81 L626.42 750.54 L628.97 742.98 L631.52 762.51 L634.08 747.39 L636.63 750.33 L639.18 751.15 L641.73 736.4 L644.28 744.08 L646.83 744.9 L649.38 737.83 L651.93 761.49 L654.48 758.71 L657.03 741.63 L659.59 736.4 L662.14 746.53 L664.69 740.81 L667.24 756.59 L669.79 763.66 L672.34 767.41 L674.89 754.13 L677.44 776.16 L679.99 795.16 L682.54 757.93 L685.09 766.92 L687.65 747.06 L690.2 743.47 L692.75 762.31 L695.3 766.11 L697.85 736.4 L700.4 731.29 L702.95 755.77 L705.5 769.09 L708.05 764.19 L710.6 770.72 L713.16 718.5 L715.71 777.79 L718.26 769.91 L720.81 750.01 L723.36 750.09 L725.91 793.85 L728.46 730.47 L731.01 741.83 L733.56 756.59 L736.11 772.36 L738.67 779.43 L741.22 762.51 L743.77 774.53 L746.32 797.12 L748.87 759.04 L751.42 759.04 L753.97 760.39 L756.52 751.68 L759.07 755.24 L761.62 732.93 L764.17 741.63 L766.73 743.47 L769.28 741.83 L771.83 745.43 L774.38 727.49 L776.93 729.33 L779.48 733.74 L782.03 771.01 L784.58 744.08 L787.13 774.81 L789.68 744.9 L792.24 741.63 L794.79 748.7 L797.34 775.91 L799.89 764.47 L802.44 799.29 L804.99 734.76 L807.54 763.66 L810.09 738.36 L812.64 753.81 L815.19 744.08 L817.75 757.4 L820.3 766.11 L822.85 781.06 L825.4 819.97 L827.95 831.12 L830.5 793.85 L833.05 795.16 L835.6 799.41 L838.15 775.63 L840.7 732.11 L843.25 755.44 L845.81 748.7 L848.36 760.67 L850.91 757.4 L853.46 748.37 L856.01 784.82 L858.56 763.66 L861.11 753.81 L863.66 770.19 L866.21 772.97 L868.76 744.9 L871.32 751.97 L873.87 767.74 L876.42 775.63 L878.97 764.15 L881.52 771.22 L884.07 790.58 L886.62 788.42 L889.17 767.95 L891.72 815.88 L894.27 815.06 L896.83 798.96 L899.38 789.77 L901.93 778.94 L904.48 759.57 L907.03 744.61 L909.58 743.47 L912.13 737.83 L914.68 758.71 L917.23 726.06 L919.78 738.36 L922.33 791.93 L924.89 776.12 L927.44 779.92 L929.99 781.88 L932.54 747.88 L935.09 745.1 L937.64 750.87 L940.19 802.27 L942.74 746.57 L945.29 748.25 L947.84 775.96 L950.4 784.86 L952.95 811.38 L955.5 783.68 L958.05 792.38 L960.6 788.42 L963.15 793.98 L965.7 752.62 L968.25 737.87 L970.8 737.87 L973.35 793.85 L975.91 754.09 L978.46 742.45 L981.01 748.37 L983.56 751.15 L986.11 754.09 L988.66 730.84 L991.21 757.57 L993.76 760.71 L996.31 783.68 L998.86 752.83 L1001.41 735.79 L1003.97 731.66 L1006.52 727.2 L1009.07 746.57 L1011.62 750.33 L1014.17 766.15 L1016.72 738.07 L1019.27 738.07 L1021.82 752.13 L1024.37 732.64 L1026.92 746.57 L1029.48 730.96 L1032.03 767.25 L1034.58 762.02 L1037.13 786.95 L1039.68 737.87 L1042.23 737.87 L1044.78 752.62 L1047.33 748.17 L1049.88 783.47 L1052.43 770.23 L1054.99 787.64 L1057.54 773.18 L1060.09 789.24 L1062.64 776.08 L1065.19 782.7 L1067.74 762.88 L1070.29 749.84 L1072.84 771.22 L1075.39 786.95 L1077.94 755.77 L1080.49 781.51 L1083.05 750.82 L1085.6 757.08 L1088.15 744.9 L1090.7 742.82 L1093.25 742.12 L1095.8 755.4 L1098.35 776.94 L1100.9 754.79 L1103.45 741.34 L1106 756.87 L1108.56 736.4 L1111.11 738.36 L1113.66 770.23 L1116.21 735.42 L1118.76 727.57 L1121.31 736.77 L1123.86 752.83 L1126.41 766.27 L1128.96 757.57 L1131.51 750.33 L1134.07 757.4 L1136.62 770.19 L1139.17 785.15 L1141.72 760.67 L1144.27 754.42 L1146.82 776.45 L1149.37 789.77 L1151.92 757.4 L1154.47 771.01 L1157.02 785.97 L1159.57 750.87 L1162.13 767.74 L1164.68 754.42 L1167.23 728.84 L1169.78 742.16 L1172.33 752.5 L1174.88 738.07 L1177.43 751.68 L1179.98 780.25 L1182.53 738.36 L1185.08 764.19 L1187.64 779.43 L1190.19 748.7 L1192.74 741.63 L1195.29 749.52 L1197.84 758.71 L1200.39 767.74 L1202.94 752.79 L1205.49 769.38 L1208.04 781.35 L1210.59 796.31 L1213.15 773.18 L1215.7 753.81 L1218.25 750.54 L1220.8 750.05" stroke="#d62728"/>
<path d="M202.96 720.91 L205.51 718.79 L208.06 715.52 L210.61 716.83 L213.17 716.83 L215.72 718.46 L218.27 708.16 L220.82 716.34 L223.37 711.92 L225.92 718.46 L228.47 713.88 L231.02 716.34 L233.57 713.56 L236.12 713.56 L238.68 713.88 L241.23 718.79 L243.78 713.88 L246.33 715.52 L248.88 706.85 L251.43 713.88 L253.98 715.19 L256.53 708.98 L259.08 715.19 L261.63 718.79 L264.19 711.43 L266.74 708.65 L269.29 713.56 L271.84 712.25 L274.39 710.29 L276.94 716.83 L279.49 715.19 L282.04 716.34 L284.59 710.29 L287.14 706.85 L289.69 708.16 L292.25 711.43 L294.8 710.29 L297.35 715.19 L299.9 715.52 L302.45 715.52 L305 715.52 L307.55 717.15 L310.1 710.61 L312.65 717.97 L315.2 722.06 L317.76 711.92 L320.31 713.88 L322.86 715.52 L325.41 711.43 L327.96 704.89 L330.51 717.97 L333.06 710.61 L335.61 713.56 L338.16 713.56 L340.71 711.43 L343.27 706.85 L345.82 709.8 L348.37 710.61 L350.92 717.15 L353.47 719.11 L356.02 717.48 L358.57 720.42 L361.12 713.88 L363.67 715.19 L366.22 715.19 L368.77 715.52 L371.33 712.25 L373.88 708.98 L376.43 706.85 L378.98 713.07 L381.53 720.42 L384.08 711.43 L386.63 710.29 L389.18 710.29 L391.73 718.46 L394.28 713.88 L396.84 716.34 L399.39 714.7 L401.94 712.25 L404.49 720.42 L407.04 715.52 L409.59 715.19 L412.14 713.07 L414.69 711.43 L417.24 715.52 L419.79 713.07 L422.35 711.43 L424.9 717.15 L427.45 714.7 L430 713.88 L432.55 714.7 L435.1 708.16 L437.65 710.61 L440.2 701.13 L442.75 722.06 L445.3 711.43 L447.85 715.52 L450.41 706.53 L452.96 715.52 L455.51 715.19 L458.06 713.88 L460.61 713.88 L463.16 713.88 L465.71 713.07 L468.26 708.16 L470.81 715.52 L473.36 711.92 L475.92 715.19 L478.47 713.07 L481.02 711.43 L483.57 711.92 L486.12 714.7 L488.67 717.15 L491.22 712.25 L493.77 702.77 L496.32 703.26 L498.87 708.16 L501.43 711.92 L503.98 708.16 L506.53 711.43 L509.08 713.88 L511.63 711.43 L514.18 711.43 L516.73 704.89 L519.28 704.89 L521.83 706.53 L524.38 708.16 L526.93 706.53 L529.49 713.88 L532.04 715.52 L534.59 711.43 L537.14 712.25 L539.69 716.34 L542.24 718.79 L544.79 715.19 L547.34 711.43 L549.89 711.43 L552.44 697.54 L555 707.35 L557.55 708.98 L560.1 718.79 L562.65 715.52 L565.2 715.52 L567.75 711.43 L570.3 711.43 L572.85 715.52 L575.4 711.43 L577.95 713.88 L580.51 714.7 L583.06 709.8 L585.61 721.73 L588.16 717.15 L590.71 713.88 L593.26 722.06 L595.81 716.83 L598.36 716.34 L600.91 715.19 L603.46 711.92 L606.01 715.19 L608.57 713.88 L611.12 718.79 L613.67 711.43 L616.22 710.61 L618.77 718.79 L621.32 715.19 L623.87 713.88 L626.42 707.02 L628.97 708.16 L631.52 710.29 L634.08 712.58 L636.63 715.52 L639.18 716.34 L641.73 710.29 L644.28 717.97 L646.83 718.79 L649.38 720.42 L651.93 717.97 L654.48 715.19 L657.03 715.52 L659.59 710.29 L662.14 720.42 L664.69 714.7 L667.24 713.07 L669.79 711.43 L672.34 715.19 L674.89 710.61 L677.44 706.53 L679.99 716.83 L682.54 705.71 L685.09 714.7 L687.65 712.25 L690.2 708.65 L692.75 718.79 L695.3 713.88 L697.85 710.29 L700.4 713.88 L702.95 712.25 L705.5 708.16 L708.05 703.26 L710.6 709.8 L713.16 709.8 L715.71 708.16 L718.26 708.98 L720.81 715.19 L723.36 697.86 L725.91 715.52 L728.46 713.07 L731.01 707.02 L733.56 713.07 L736.11 711.43 L738.67 709.8 L741.22 710.29 L743.77 704.89 L746.32 718.79 L748.87 715.52 L751.42 715.52 L753.97 708.16 L756.52 708.16 L759.07 720.42 L761.62 715.52 L764.17 715.52 L766.73 708.65 L769.28 707.02 L771.83 710.61 L774.38 718.79 L776.93 711.92 L779.48 716.34 L782.03 718.79 L784.58 717.97 L787.13 713.88 L789.68 718.79 L792.24 715.52 L794.79 713.88 L797.34 723.69 L799.89 712.25 L802.44 712.25 L804.99 708.65 L807.54 711.43 L810.09 712.25 L812.64 710.29 L815.19 717.97 L817.75 713.88 L820.3 713.88 L822.85 711.43 L825.4 715.52 L827.95 717.97 L830.5 715.52 L833.05 716.83 L835.6 721.08 L838.15 714.7 L840.7 714.7 L843.25 711.92 L845.81 713.88 L848.36 717.15 L850.91 713.88 L853.46 713.56 L856.01 715.19 L858.56 711.43 L861.11 710.29 L863.66 717.97 L866.21 720.75 L868.76 718.79 L871.32 717.15 L873.87 715.52 L876.42 714.7 L878.97 711.92 L881.52 710.29 L884.07 712.25 L886.62 718.79 L889.17 707.02 L891.72 711.43 L894.27 710.61 L896.83 711.92 L899.38 711.43 L901.93 709.31 L904.48 707.35 L907.03 709.8 L909.58 708.65 L912.13 720.42 L914.68 715.19 L917.23 708.65 L919.78 712.25 L922.33 704.89 L924.89 715.19 L927.44 710.29 L929.99 712.25 L932.54 713.07 L935.09 710.29 L937.64 707.35 L940.19 706.53 L942.74 711.76 L945.29 704.73 L947.84 715.03 L950.4 706.53 L952.95 724.34 L955.5 714.05 L958.05 714.05 L960.6 718.79 L963.15 724.34 L965.7 717.81 L968.25 711.76 L970.8 711.76 L973.35 715.52 L975.91 719.28 L978.46 716.34 L981.01 713.56 L983.56 716.34 L986.11 719.28 L988.66 704.73 L991.21 714.05 L993.76 708.49 L996.31 714.05 L998.86 709.31 L1001.41 700.97 L1003.97 705.55 L1006.52 709.8 L1009.07 711.76 L1011.62 715.52 L1014.17 705.22 L1016.72 703.26 L1019.27 703.26 L1021.82 717.32 L1024.37 706.53 L1026.92 711.76 L1029.48 713.56 L1032.03 715.03 L1034.58 709.8 L1037.13 717.32 L1039.68 711.76 L1042.23 711.76 L1044.78 717.81 L1047.33 722.06 L1049.88 722.55 L1052.43 709.31 L1054.99 709.31 L1057.54 712.25 L1060.09 719.6 L1062.64 723.85 L1065.19 713.07 L1067.74 701.95 L1070.29 715.03 L1072.84 710.29 L1075.39 717.32 L1077.94 712.25 L1080.49 720.58 L1083.05 716.01 L1085.6 713.56 L1088.15 718.79 L1090.7 708 L1093.25 716.01 L1095.8 720.58 L1098.35 716.01 L1100.9 711.27 L1103.45 706.53 L1106 722.06 L1108.56 710.29 L1111.11 712.25 L1113.66 709.31 L1116.21 709.31 L1118.76 701.46 L1121.31 701.95 L1123.86 709.31 L1126.41 714.05 L1128.96 714.05 L1131.51 715.52 L1134.07 713.88 L1136.62 717.97 L1139.17 715.52 L1141.72 717.15 L1144.27 719.6 L1146.82 715.52 L1149.37 711.43 L1151.92 713.88 L1154.47 718.79 L1157.02 716.34 L1159.57 707.35 L1162.13 715.52 L1164.68 719.6 L1167.23 711.43 L1169.78 707.35 L1172.33 708.98 L1174.88 703.26 L1177.43 708.16 L1179.98 710.61 L1182.53 712.25 L1185.08 703.26 L1187.64 709.8 L1190.19 713.88 L1192.74 715.52 L1195.29 714.7 L1197.84 715.19 L1200.39 715.52 L1202.94 717.97 L1205.49 717.15 L1208.04 720.42 L1210.59 717.97 L1213.15 712.25 L1215.7 710.29 L1218.25 707.02 L1220.8 706.53" stroke="#9467bd"/>
<path d="M202.96 745.33 L205.51 788.85 L208.06 780.14 L210.61 780.14 L213.17 780.14 L215.72 797.55 L218.27 771.44 L220.82 780.14 L223.37 771.44 L225.92 771.44 L228.47 771.44 L231.02 771.44 L233.57 797.55 L236.12 762.74 L238.68 762.74 L241.23 832.37 L243.78 771.44 L246.33 797.55 L248.88 771.44 L251.43 771.44 L253.98 797.55 L256.53 780.14 L259.08 788.85 L261.63 762.74 L264.19 745.33 L266.74 780.14 L269.29 788.85 L271.84 762.74 L274.39 771.44 L276.94 754.03 L279.49 780.14 L282.04 788.85 L284.59 806.26 L287.14 788.85 L289.69 814.96 L292.25 788.85 L294.8 762.74 L297.35 745.33 L299.9 754.03 L302.45 771.44 L305 771.44 L307.55 762.74 L310.1 771.44 L312.65 788.85 L315.2 771.44 L317.76 780.14 L320.31 754.03 L322.86 762.74 L325.41 771.44 L327.96 771.44 L330.51 780.14 L333.06 771.44 L335.61 780.14 L338.16 754.03 L340.71 771.44 L343.27 762.74 L345.82 754.03 L348.37 762.74 L350.92 780.14 L353.47 797.55 L356.02 797.55 L358.57 788.85 L361.12 788.85 L363.67 797.55 L366.22 762.74 L368.77 771.44 L371.33 797.55 L373.88 780.14 L376.43 788.85 L378.98 780.14 L381.53 780.14 L384.08 762.74 L386.63 736.62 L389.18 762.74 L391.73 823.66 L394.28 745.33 L396.84 788.85 L399.39 762.74 L401.94 762.74 L404.49 788.85 L407.04 771.44 L409.59 806.26 L412.14 754.03 L414.69 762.74 L417.24 780.14 L419.79 771.44 L422.35 762.74 L424.9 780.14 L427.45 754.03 L430 788.85 L432.55 762.74 L435.1 771.44 L437.65 806.26 L440.2 780.14 L442.75 797.55 L445.3 797.55 L447.85 788.85 L450.41 797.55 L452.96 797.55 L455.51 771.44 L458.06 754.03 L460.61 754.03 L463.16 762.74 L465.71 806.26 L468.26 780.14 L470.81 797.55 L473.36 780.14 L475.92 762.74 L478.47 762.74 L481.02 771.44 L483.57 762.74 L486.12 771.44 L488.67 771.44 L491.22 788.85 L493.77 762.74 L496.32 806.26 L498.87 788.85 L501.43 814.96 L503.98 797.55 L506.53 797.55 L509.08 788.85 L511.63 745.33 L514.18 771.44 L516.73 780.14 L519.28 771.44 L521.83 762.74 L524.38 745.33 L526.93 771.44 L529.49 754.03 L532.04 736.62 L534.59 736.62 L537.14 762.74 L539.69 762.74 L542.24 771.44 L544.79 797.55 L547.34 788.85 L549.89 797.55 L552.44 771.44 L555 797.55 L557.55 754.03 L560.1 780.14 L562.65 780.14 L565.2 754.03 L567.75 754.03 L570.3 797.55 L572.85 762.74 L575.4 788.85 L577.95 771.44 L580.51 736.62 L583.06 762.74 L585.61 771.44 L588.16 762.74 L590.71 762.74 L593.26 762.74 L595.81 754.03 L598.36 797.55 L600.91 771.44 L603.46 780.14 L606.01 762.74 L608.57 762.74 L611.12 780.14 L613.67 771.44 L616.22 771.44 L618.77 754.03 L621.32 788.85 L623.87 788.85 L626.42 771.44 L628.97 762.74 L631.52 780.14 L634.08 762.74 L636.63 762.74 L639.18 762.74 L641.73 754.03 L644.28 754.03 L646.83 754.03 L649.38 745.33 L651.93 771.44 L654.48 771.44 L657.03 754.03 L659.59 754.03 L662.14 754.03 L664.69 754.03 L667.24 771.44 L669.79 780.14 L672.34 780.14 L674.89 771.44 L677.44 797.55 L679.99 806.26 L682.54 780.14 L685.09 780.14 L687.65 762.74 L690.2 762.74 L692.75 771.44 L695.3 780.14 L697.85 754.03 L700.4 745.33 L702.95 771.44 L705.5 788.85 L708.05 788.85 L710.6 788.85 L713.16 736.62 L715.71 797.55 L718.26 788.85 L720.81 762.74 L723.36 780.14 L725.91 806.26 L728.46 745.33 L731.01 762.74 L733.56 771.44 L736.11 788.85 L738.67 797.55 L741.22 780.14 L743.77 797.55 L746.32 806.26 L748.87 771.44 L751.42 771.44 L753.97 780.14 L756.52 771.44 L759.07 762.74 L761.62 745.33 L764.17 754.03 L766.73 762.74 L769.28 762.74 L771.83 762.74 L774.38 736.62 L776.93 745.33 L779.48 745.33 L782.03 780.14 L784.58 754.03 L787.13 788.85 L789.68 754.03 L792.24 754.03 L794.79 762.74 L797.34 780.14 L799.89 780.14 L802.44 814.96 L804.99 754.03 L807.54 780.14 L810.09 754.03 L812.64 771.44 L815.19 754.03 L817.75 771.44 L820.3 780.14 L822.85 797.55 L825.4 832.37 L827.95 841.07 L830.5 806.26 L833.05 806.26 L835.6 806.26 L838.15 788.85 L840.7 745.33 L843.25 771.44 L845.81 762.74 L848.36 771.44 L850.91 771.44 L853.46 762.74 L856.01 797.55 L858.56 780.14 L861.11 771.44 L863.66 780.14 L866.21 780.14 L868.76 754.03 L871.32 762.74 L873.87 780.14 L876.42 788.85 L878.97 780.14 L881.52 788.85 L884.07 806.26 L886.62 797.55 L889.17 788.85 L891.72 832.37 L894.27 832.37 L896.83 814.96 L899.38 806.26 L901.93 797.55 L904.48 780.14 L907.03 762.74 L909.58 762.74 L912.13 745.33 L914.68 771.44 L917.23 745.33 L919.78 754.03 L922.33 814.96 L924.89 788.85 L927.44 797.55 L929.99 797.55 L932.54 762.74 L935.09 762.74 L937.64 771.44 L940.19 823.66 L942.74 762.74 L945.29 771.44 L947.84 788.85 L950.4 806.26 L952.95 814.96 L955.5 797.55 L958.05 806.26 L960.6 797.55 L963.15 797.55 L965.7 762.74 L968.25 754.03 L970.8 754.03 L973.35 806.26 L975.91 762.74 L978.46 754.03 L981.01 762.74 L983.56 762.74 L986.11 762.74 L988.66 754.03 L991.21 771.44 L993.76 780.14 L996.31 797.55 L998.86 771.44 L1001.41 762.74 L1003.97 754.03 L1006.52 745.33 L1009.07 762.74 L1011.62 762.74 L1014.17 788.85 L1016.72 762.74 L1019.27 762.74 L1021.82 762.74 L1024.37 754.03 L1026.92 762.74 L1029.48 745.33 L1032.03 780.14 L1034.58 780.14 L1037.13 797.55 L1039.68 754.03 L1042.23 754.03 L1044.78 762.74 L1047.33 754.03 L1049.88 788.85 L1052.43 788.85 L1054.99 806.26 L1057.54 788.85 L1060.09 797.55 L1062.64 780.14 L1065.19 797.55 L1067.74 788.85 L1070.29 762.74 L1072.84 788.85 L1075.39 797.55 L1077.94 771.44 L1080.49 788.85 L1083.05 762.74 L1085.6 771.44 L1088.15 754.03 L1090.7 762.74 L1093.25 754.03 L1095.8 762.74 L1098.35 788.85 L1100.9 771.44 L1103.45 762.74 L1106 762.74 L1108.56 754.03 L1111.11 754.03 L1113.66 788.85 L1116.21 754.03 L1118.76 754.03 L1121.31 762.74 L1123.86 771.44 L1126.41 780.14 L1128.96 771.44 L1131.51 762.74 L1134.07 771.44 L1136.62 780.14 L1139.17 797.55 L1141.72 771.44 L1144.27 762.74 L1146.82 788.85 L1149.37 806.26 L1151.92 771.44 L1154.47 780.14 L1157.02 797.55 L1159.57 771.44 L1162.13 780.14 L1164.68 762.74 L1167.23 745.33 L1169.78 762.74 L1172.33 771.44 L1174.88 762.74 L1177.43 771.44 L1179.98 797.55 L1182.53 754.03 L1185.08 788.85 L1187.64 797.55 L1190.19 762.74 L1192.74 754.03 L1195.29 762.74 L1197.84 771.44 L1200.39 780.14 L1202.94 762.74 L1205.49 780.14 L1208.04 788.85 L1210.59 806.26 L1213.15 788.85 L1215.7 771.44 L1218.25 771.44 L1220.8 771.44" stroke="#8c564b"/>
</g>
<path d="M203 848 V857.72 M331 848 V857.72 M458 848 V857.72 M586 848 V857.72 M713 848 V857.72 M841 848 V857.72 M968 848 V857.72 M1096 848 V857.72 M1223 848 V857.72 M152 815 H142.28 M152 728 H142.28" stroke="#000" stroke-width="2.22" fill="none"/>
<path d="M152 691 H1272 V848 H152 Z" stroke="#000" stroke-width="2.22" fill="none" stroke-linejoin="miter" stroke-linecap="square"/>
<g font-family="Liberation Sans, sans-serif">
<text transform="translate(194.09 889.24) scale(0.9992 1)" x="0.69" y="0" font-size="29.31" fill="#000000">0</text>
<text transform="translate(312.82 889.24) scale(0.9712 1)" x="0.83 19.12" y="0" font-size="29.31" fill="#000000">50</text>
<text transform="translate(431.5 889.24) scale(0.9852 1)" x="0.67 18.73 36.65" y="0" font-size="29.31" fill="#000000">100</text>
<text transform="translate(559.11 889.24) scale(0.9659 1)" x="0.85 19.16 37.55" y="0" font-size="29.31" fill="#000000">150</text>
<text transform="translate(686.59 889.24) scale(0.9875 1)" x="0.42 18.67 36.55" y="0" font-size="29.31" fill="#000000">200</text>
<text transform="translate(814.2 889.24) scale(0.9686 1)" x="0.59 19.08 37.42" y="0" font-size="29.31" fill="#000000">250</text>
<text transform="translate(941.63 889.24) scale(0.9861 1)" x="0.84 18.71 36.62" y="0" font-size="29.31" fill="#000000">300</text>
<text transform="translate(1069.24 889.24) scale(0.9673 1)" x="1.02 19.12 37.48" y="0" font-size="29.31" fill="#000000">350</text>
<text transform="translate(1196.79 889.24) scale(0.9992 1)" x="0.69 18.36 36.03" y="0" font-size="29.31" fill="#000000">400</text>
<text transform="translate(74 825.96) scale(1.0627 1)" x="2.39 21.88 38.65" y="0" font-size="29.31" fill="#000000">−10</text>
<text transform="translate(114.88 738.92) scale(0.9992 1)" x="0.69" y="0" font-size="29.31" fill="#000000">0</text>
<text transform="translate(648.63 928.36) scale(1.0180 1)" x="-0.61 12.28 28.73 44.16 53.91 61.34 80.82 90.6 107.74" y="0" font-size="29.31" fill="#000000">Test Step</text>
<text transform="translate(56.89 863.29) rotate(-90) scale(0.9655 1)" x="0.21 25.56 42.08 61.13 78.82 87.34 106.88 124.98 146.92 166.54 177.03" y="0" font-size="29.31" fill="#000000">Mean Reward</text>
<text transform="translate(240.13 674.23) scale(0.9970 1)" x="0.41 22.15 43 64.62 86.04 107.27 128.2 149.98 171.24 192.09 213.83 235.13 256.48 277.73 298.61 309.57 320.53 332.4 343.71 365.9 386.86 407.94 429.69 461 471.97 482.92 493.71 512.38 531.36 550.41 569.55 591.41 603.34 623.99 643.81 666.7 678.71 700.39 712.65 730.36 741.62 762.92 782.06 791.76 807.66 827.83 846.7 858.67 867.95 891.72 903.83 924.9" y="0" font-size="35.17" fill="#000000">20250723020836 : random : e_3_predators by Test Step</text>
</g>
<path d="M1059.5 964.5 L1252.5 964.5 Q1257.5 964.5 1257.5 959.5 L1257.5 710.5 Q1257.5 705.5 1252.5 705.5 L1059.5 705.5 Q1054.5 705.5 1054.5 710.5 L1054.5 959.5 Q1054.5 964.5 1059.5 964.5 Z" fill="#ffffff" fill-opacity="0.8" stroke="#cccccc" stroke-opacity="0.8" stroke-width="2.78"/>
<g fill="none" stroke-width="2.08" stroke-linecap="square">
<path d="M1066 728 L1093 728 L1121 728" stroke="#1f77b4"/>
<path d="M1066 770 L1093 770 L1121 770" stroke="#ff7f0e"/>
<path d="M1066 812 L1093 812 L1121 812" stroke="#2ca02c"/>
<path d="M1066 854 L1093 854 L1121 854" stroke="#d62728"/>
<path d="M1066 896 L1093 896 L1121 896" stroke="#9467bd"/>
<path d="M1066 938 L1093 938 L1121 938" stroke="#8c564b"/>
</g>
<g font-family="Liberation Sans, sans-serif">
<text transform="translate(1143.32 737.9) scale(0.9722 1)" x="-0.19 19.24 37.19 58.99 78.5 88.9" y="0" font-size="29.31" fill="#000000">Reward</text>
<text transform="translate(1143.32 779.79) scale(0.9809 1)" x="-0.63 18.08 34.03 52.32 62.43" y="0" font-size="29.31" fill="#000000">Score</text>
<text transform="translate(1143.32 821.68) scale(0.9722 1)" x="-0.19 19.24 37.19 58.99 78.5 88.9" y="0" font-size="29.31" fill="#000000">Reward</text>
<text transform="translate(1143.32 863.57) scale(0.9809 1)" x="-0.63 18.08 34.03 52.32 62.43" y="0" font-size="29.31" fill="#000000">Score</text>
<text transform="translate(1143.32 905.46) scale(0.9227 1)" x="-0.31 17.76 41.43 65.74" y="0" font-size="29.31" fill="#000000">FOOD</text>
<text transform="translate(1143.32 947.34) scale(0.8789 1)" x="0.59 10.54 28.75 43.22 66.32 85.17" y="0" font-size="29.31" fill="#000000">INJURY</text>
</g></svg>
</body></html>
